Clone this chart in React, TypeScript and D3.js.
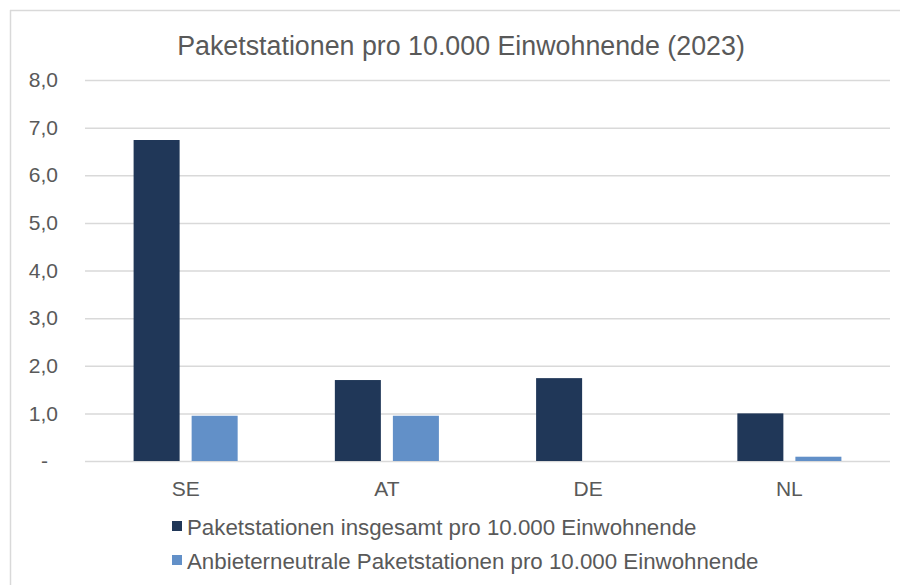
import { useEffect, useRef } from 'react';
import * as d3 from 'd3';

const width = 900
const height = 585
const margin = { top: 80, right: 10, bottom: 124, left: 85 }

const categories = ['SE', 'AT', 'DE', 'NL']
const seriesNames = [
  'Paketstationen insgesamt pro 10.000 Einwohnende',
  'Anbieterneutrale Paketstationen pro 10.000 Einwohnende',
]
const totalValues = [6.74, 1.70, 1.74, 1.0]
const neutralValues = [0.95, 0.95, 0, 0.09]
const yTicks = [0, 1, 2, 3, 4, 5, 6, 7, 8]

const colors = ['#203758', '#6290c8']
const textColor = '#595959'
const gridColor = '#d9d9d9'
const font = '"Liberation Sans", Arial, sans-serif'

const App = () => {
  const ref = useRef(null)

  useEffect(() => {
    if (!ref.current) return
    const svg = d3.select(ref.current)
    svg.selectAll('*').remove()

    const series = [totalValues, neutralValues]

    const x0 = d3.scaleBand()
      .domain(categories)
      .range([margin.left, width - margin.right])
      .paddingInner(0.483)
      .paddingOuter(0.2415)

    const x1 = d3.scaleBand()
      .domain(['0', '1'])
      .range([0, x0.bandwidth()])
      .paddingInner(0.207)

    const y = d3.scaleLinear()
      .domain([0, 8])
      .range([height - margin.bottom, margin.top])

    // frame (only top and left edge visible)
    svg.append('line')
      .attr('x1', 10).attr('x2', width).attr('y1', 10.5).attr('y2', 10.5)
      .attr('stroke', gridColor).attr('stroke-width', 1.5)
    svg.append('line')
      .attr('x1', 10.5).attr('x2', 10.5).attr('y1', 10).attr('y2', height)
      .attr('stroke', gridColor).attr('stroke-width', 1.5)

    // title
    svg.append('text')
      .attr('x', 461)
      .attr('y', 55)
      .attr('text-anchor', 'middle')
      .attr('fill', textColor)
      .style('font-family', font)
      .style('font-size', '26.8px')
      .text('Paketstationen pro 10.000 Einwohnende (2023)')

    // grid
    const yAxis = d3.axisLeft(y)
      .tickValues(yTicks)
      .tickSize(-(width - margin.left - margin.right))
      .tickPadding(27)
      .tickFormat(d => (d === 0 ? '-' : d3.format('.1f')(d as number).replace('.', ',')))

    const gy = svg.append('g')
      .attr('transform', `translate(${margin.left},0)`)
      .call(yAxis)
    gy.select('.domain').remove()
    gy.selectAll('.tick line').attr('stroke', gridColor).attr('stroke-width', 1.5)
    gy.selectAll('.tick text')
      .attr('fill', textColor)
      .style('font-family', font)
      .style('font-size', '21px')
    gy.selectAll('.tick text')
      .filter(d => d === 0)
      .attr('dx', -10)

    // bars
    const groups = svg.append('g')
      .selectAll('g')
      .data(categories)
      .enter()
      .append('g')
      .attr('transform', d => `translate(${x0(d)},0)`)

    groups.selectAll('rect')
      .data((d, i) => series.map((s, k) => ({ k, v: s[i] })))
      .enter()
      .append('rect')
      .attr('x', d => x1(String(d.k)) as number)
      .attr('y', d => y(d.v))
      .attr('width', x1.bandwidth())
      .attr('height', d => y(0) - y(d.v))
      .attr('fill', d => colors[d.k])

    // x labels
    const xAxis = d3.axisBottom(x0).tickSize(0).tickPadding(20)
    const gx = svg.append('g')
      .attr('transform', `translate(0,${height - margin.bottom})`)
      .call(xAxis)
    gx.select('.domain').remove()
    gx.selectAll('.tick text')
      .attr('fill', textColor)
      .style('font-family', font)
      .style('font-size', '21px')

    // legend
    const legend = svg.append('g')
      .selectAll('g')
      .data(seriesNames)
      .enter()
      .append('g')
      .attr('transform', (d, i) => `translate(172,${521 + i * 34})`)

    legend.append('rect')
      .attr('width', 10)
      .attr('height', 10)
      .attr('fill', (d, i) => colors[i])

    legend.append('text')
      .attr('x', 15)
      .attr('y', 14)
      .attr('fill', textColor)
      .style('font-family', font)
      .style('font-size', '22.3px')
      .text(d => d)
  }, [])

  return (
    <svg
      width={width}
      height={height}
      ref={ref}
      style={{ position: 'absolute', left: 0, top: 0, background: '#fff' }}
    ></svg>
  )
}

export default App;
